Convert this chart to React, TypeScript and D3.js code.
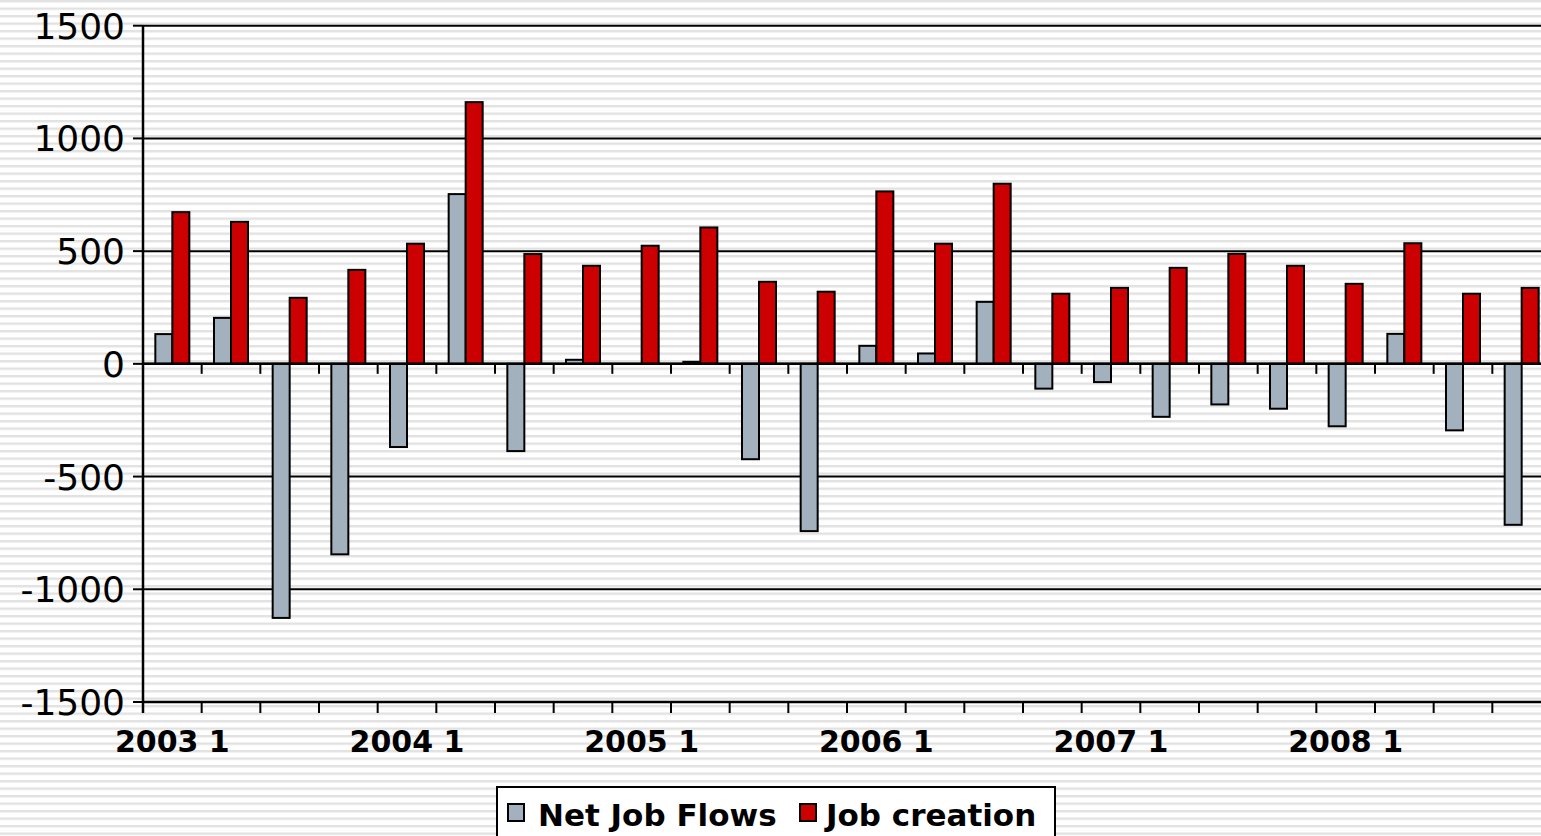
import React from 'react';
import * as d3 from 'd3';

// quarters 2003 Q1 .. 2008 Q4
const quarters = [
  '2003 1', '2003 2', '2003 3', '2003 4',
  '2004 1', '2004 2', '2004 3', '2004 4',
  '2005 1', '2005 2', '2005 3', '2005 4',
  '2006 1', '2006 2', '2006 3', '2006 4',
  '2007 1', '2007 2', '2007 3', '2007 4',
  '2008 1', '2008 2', '2008 3', '2008 4',
];

const netJobFlows = [
  132, 204, -1127, -845, -369, 753, -387, 18, 0, 9, -423, -742,
  80, 46, 275, -110, -81, -235, -180, -199, -277, 133, -295, -714,
];

const jobCreation = [
  673, 630, 293, 417, 533, 1161, 487, 435, 524, 605, 364, 320,
  765, 533, 799, 311, 337, 426, 488, 435, 355, 535, 311, 337,
];

const seriesNames = ['Net Job Flows', 'Job creation'];
const seriesColors = ['#a3b1bf', '#cc0000'];
const yTicks = [1500, 1000, 500, 0, -500, -1000, -1500];
const labelQuarters = ['2003 1', '2004 1', '2005 1', '2006 1', '2007 1', '2008 1'];

const W = 1541;
const H = 836;
const FONT = '"DejaVu Sans", Verdana, sans-serif';

const App: React.FC = () => {
  // plot area runs a little past the right edge of the picture
  const left = 143;
  const right = 1551;
  const top = 25.7;
  const bottom = 702;

  const x0 = d3.scaleBand<string>().domain(quarters).range([left, right]).padding(0);
  const x1 = d3
    .scaleBand<string>()
    .domain(seriesNames)
    .range([0, x0.bandwidth()])
    .paddingInner(0)
    .paddingOuter(0.725);
  const y = d3.scaleLinear().domain([-1500, 1500]).range([bottom, top]);

  const series = [netJobFlows, jobCreation];
  const boundaries = d3.range(quarters.length + 1).map((i) => left + i * x0.step());

  return (
    <svg
      width={W}
      height={H}
      style={{ position: 'absolute', left: 0, top: 0, display: 'block' }}
      fontFamily={FONT}
    >
      <defs>
        <pattern id="stripes" width="8" height="7.5" patternUnits="userSpaceOnUse">
          <rect width="8" height="7.5" fill="#ffffff" />
          <rect y="0" width="8" height="2.4" fill="#e2e2e2" />
        </pattern>
      </defs>
      <rect width={W} height={H} fill="url(#stripes)" />

      {/* gridlines */}
      {yTicks.map((t) => (
        <line key={t} x1={left} x2={right} y1={y(t)} y2={y(t)} stroke="#000" strokeWidth={2} />
      ))}

      {/* y tick marks & labels */}
      {yTicks.map((t) => (
        <g key={`yt${t}`}>
          <line x1={left - 10} x2={left} y1={y(t)} y2={y(t)} stroke="#000" strokeWidth={2} />
          <text x={125} y={y(t)} dy="0.36em" textAnchor="end" fontSize={36} fill="#000">
            {t}
          </text>
        </g>
      ))}

      {/* bars */}
      {quarters.map((q, i) => (
        <g key={q} transform={`translate(${x0(q)},0)`}>
          {series.map((vals, s) => {
            const v = vals[i];
            const y0 = y(Math.max(0, v));
            const h = Math.abs(y(v) - y(0));
            return (
              <rect
                key={s}
                x={x1(seriesNames[s])}
                y={y0}
                width={x1.bandwidth()}
                height={h}
                fill={seriesColors[s]}
                stroke="#000"
                strokeWidth={2}
              />
            );
          })}
        </g>
      ))}

      {/* x axis at zero and at bottom */}
      <line x1={left} x2={right} y1={y(0)} y2={y(0)} stroke="#000" strokeWidth={2.5} />
      <line x1={left} x2={right} y1={y(-1500)} y2={y(-1500)} stroke="#000" strokeWidth={2.5} />
      {boundaries.map((bx, i) => (
        <g key={`xt${i}`}>
          <line x1={bx} x2={bx} y1={y(0)} y2={y(0) + 10} stroke="#000" strokeWidth={2} />
          <line x1={bx} x2={bx} y1={y(-1500)} y2={y(-1500) + 11} stroke="#000" strokeWidth={2} />
        </g>
      ))}

      {/* y axis */}
      <line x1={left} x2={left} y1={top} y2={bottom + 11} stroke="#000" strokeWidth={2.5} />

      {/* x labels */}
      {labelQuarters.map((q) => (
        <text
          key={q}
          x={(x0(q) as number) + x0.bandwidth() / 2}
          y={752}
          textAnchor="middle"
          fontSize={30}
          fontWeight="bold"
          fill="#000"
        >
          {q}
        </text>
      ))}

      {/* legend */}
      <g>
        <rect x={497} y={787} width={558} height={70} fill="#fff" stroke="#000" strokeWidth={2} />
        <rect x={508} y={804} width={16} height={17} fill={seriesColors[0]} stroke="#000" strokeWidth={2} />
        <text x={538} y={826} fontSize={31} fontWeight="bold" fill="#000">
          {seriesNames[0]}
        </text>
        <rect x={800} y={804} width={16} height={17} fill={seriesColors[1]} stroke="#000" strokeWidth={2} />
        <text x={826} y={826} fontSize={31} fontWeight="bold" fill="#000">
          {seriesNames[1]}
        </text>
      </g>
    </svg>
  );
};

export default App;
